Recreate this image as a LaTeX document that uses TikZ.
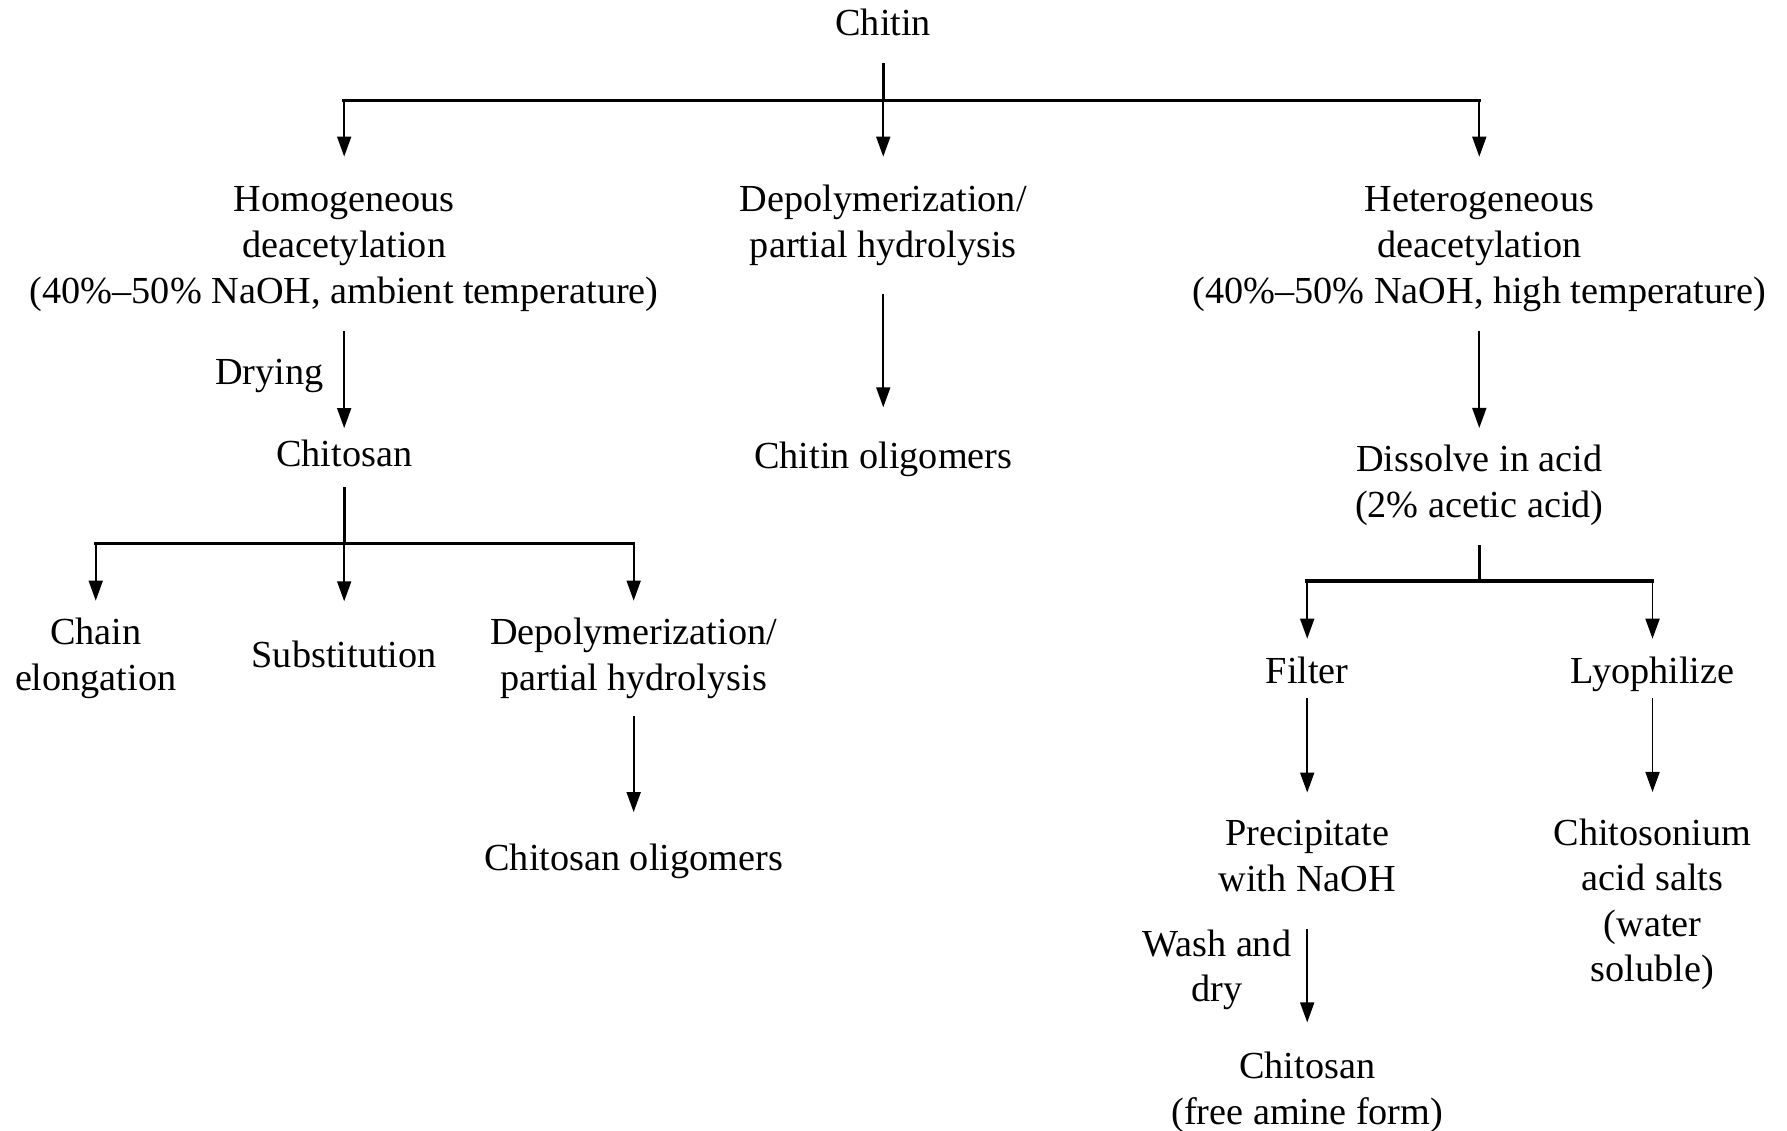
\documentclass[tikz,border=0pt]{standalone}
\usepackage{fontspec}
\setmainfont{Liberation Serif}
\usetikzlibrary{arrows.meta}
\begin{document}
\begin{tikzpicture}[x=0.45588pt,y=-0.45588pt,
  txt/.style={inner sep=0pt,outer sep=0pt,align=center,font=\fontsize{15.3}{18.24}\selectfont},
  arr/.style={line width=0.7pt,-{Triangle[width=5.6pt,length=8pt]}},
  stem/.style={line width=1.1pt},
  bar/.style={line width=1.4pt,line cap=rect}]
\useasboundingbox (0,0) rectangle (1568,992);
\newcommand{\s}{\rule[-4.1pt]{0pt}{18.24pt}}
% nodes
\node[txt] (chitin) at (775,20) {\s Chitin};
\node[txt] (homo) at (302,215) {\s Homogeneous\\\s deacetylation\\\s (40\%–50\% NaOH, ambient temperature)};
\node[txt] (depol) at (775,195) {\s Depolymerization/\\\s partial hydrolysis};
\node[txt] (hetero) at (1298,215) {\s Heterogeneous\\\s deacetylation\\\s (40\%–50\% NaOH, high temperature)};
\node[txt] (chitosan) at (302,398) {\s Chitosan};
\node[txt] (chitinolig) at (775,400) {\s Chitin oligomers};
\node[txt] (dissolve) at (1298,423) {\s Dissolve in acid\\\s (2\% acetic acid)};
\node[txt] (chain) at (84,574.5) {\s Chain\\\s elongation};
\node[txt] (subst) at (302,575) {\s Substitution};
\node[txt] (depol2) at (556,574.5) {\s Depolymerization/\\\s partial hydrolysis};
\node[txt] (chitosanolig) at (556,753) {\s Chitosan oligomers};
\node[txt] (filter) at (1147,589) {\s Filter};
\node[txt] (lyoph) at (1450,589) {\s Lyophilize};
\node[txt] (precip) at (1147,751) {\s Precipitate\\\s with NaOH};
\node[txt] (salts) at (1450,790.5) {\s Chitosonium\\\s acid salts\\\s (water\\\s soluble)};
\node[txt] (chitosan2) at (1147,955.5) {\s Chitosan\\\s (free amine form)};
\node[txt,anchor=east] (drying) at (284,326) {\s Drying};
\node[txt,anchor=east] (wash) at (1133,848) {\s Wash and\\\s dry};
% junctions
\coordinate (j1) at (775,88);
\coordinate (j2) at (302,477);
\coordinate (j3) at (1298,510);
% top tree
\draw[stem,shorten <=7.07pt] (chitin.south) -- (j1);
\draw[bar] (j1 -| homo) -- (j1 -| hetero);
\draw[arr,shorten >=8pt] (j1 -| homo) -- (homo.north);
\draw[arr,shorten >=8pt] (j1) -- (depol.north);
\draw[arr,shorten >=8pt] (j1 -| hetero) -- (hetero.north);
% left column
\draw[arr,shorten <=7.1pt,shorten >=1.1pt] (homo.south) -- (chitosan.north);
\draw[stem,shorten <=4.3pt] (chitosan.south) -- (j2);
\draw[bar] (j2 -| chain) -- (j2 -| depol2);
\draw[arr,shorten >=3.4pt] (j2 -| chain) -- (chain.north);
\draw[arr,shorten >=12.5pt] (j2) -- (subst.north);
\draw[arr,shorten >=3.4pt] (j2 -| depol2) -- (depol2.north);
\draw[arr,shorten <=6.2pt,shorten >=9.3pt] (depol2.south) -- (chitosanolig.north);
% middle column
\draw[arr,shorten <=10.3pt,shorten >=10.3pt] (depol.south) -- (chitinolig.north);
% right column
\draw[arr,shorten <=7.1pt,shorten >=3.4pt] (hetero.south) -- (dissolve.north);
\draw[stem,shorten <=7.1pt] (dissolve.south) -- (j3);
\draw[bar] (j3 -| filter) -- (j3 -| lyoph);
\draw[arr,shorten >=3.9pt] (j3 -| filter) -- (filter.north);
\draw[arr,shorten >=3.9pt] (j3 -| lyoph) -- (lyoph.north);
\draw[arr,shorten <=1.6pt,shorten >=7.1pt] (filter.south) -- (precip.north);
\draw[arr,shorten <=1.6pt,shorten >=7.1pt] (lyoph.south) -- (salts.north);
\draw[arr,shorten <=11.2pt,shorten >=8.4pt] (precip.south) -- (chitosan2.north);
\end{tikzpicture}
\end{document}
